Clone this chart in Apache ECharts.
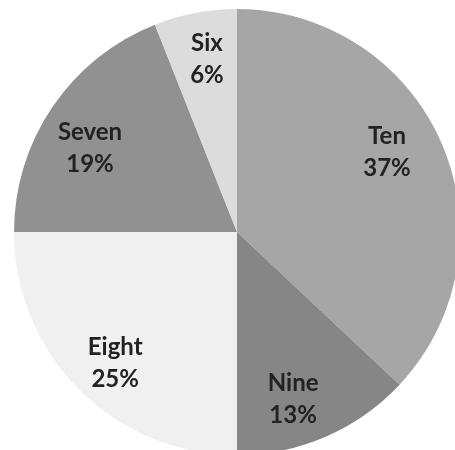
<!DOCTYPE html>
<html>
<head>
<meta charset="utf-8">
<script src="https://cdn.jsdelivr.net/npm/echarts@6/dist/echarts.min.js"></script>
<style>
  html, body { margin: 0; padding: 0; background: #ffffff; }
  #chart { width: 455px; height: 450px; }
</style>
</head>
<body>
<div id="chart"></div>
<script>
// Slice names and percentages, clockwise from 12 o'clock
const categories = ['Ten', 'Nine', 'Eight', 'Seven', 'Six'];
const percents = [37, 13, 25, 19, 6];

// Styling
const sliceColors = {
  Ten: '#a6a6a6', Nine: '#868686', Eight: '#f0f0f0', Seven: '#919191', Six: '#dcdcdc'
};
// Per-label nudges: horizontal padding [right, left] and blank space above / below the text
const labelPadX = { Ten: [24, 0], Nine: [28, 0], Eight: [0, 6], Seven: [2, 0], Six: [0, 6] };
const labelSpace = { Ten: [0, 20], Nine: [10, 0], Eight: [12, 0], Seven: [30, 0], Six: [2, 0] };

const textFont = {
  fontFamily: 'Lato, "Open Sans", sans-serif',
  fontWeight: 'bold',
  fontSize: 24,
  lineHeight: 32,
  color: '#222222'
};

const chart = echarts.init(document.getElementById('chart'), null, { renderer: 'canvas' });

const slices = categories.map((name, i) => ({
  name: name,
  value: percents[i],
  itemStyle: { color: sliceColors[name] }
}));

const labelSlices = categories.map((name, i) => {
  const [above, below] = labelSpace[name];
  const [padR, padL] = labelPadX[name];
  const lines = [];
  if (above) lines.push('{sa| }');
  lines.push('{t|' + name + '}', '{t|' + percents[i] + '%}');
  if (below) lines.push('{sb| }');
  return {
    name: name,
    value: percents[i],
    label: {
      formatter: lines.join('\n'),
      padding: [0, padR, 0, padL],
      rich: {
        t: textFont,
        sa: { fontSize: 1, lineHeight: above || 1, height: above || 1 },
        sb: { fontSize: 1, lineHeight: below || 1, height: below || 1 }
      }
    }
  };
});

const center = [237, 232];
const outerR = 223;

chart.setOption({
  animation: false,
  backgroundColor: '#ffffff',
  series: [
    {
      type: 'pie',
      center: center,
      radius: [0, outerR],
      startAngle: 90,
      clockwise: true,
      silent: true,
      label: { show: false },
      labelLine: { show: false },
      itemStyle: { borderWidth: 0 },
      data: slices
    },
    {
      // transparent ring carrying the labels further out than the pie's middle
      type: 'pie',
      center: center,
      radius: [124, outerR],
      startAngle: 90,
      clockwise: true,
      silent: true,
      itemStyle: { color: 'rgba(0,0,0,0)', borderWidth: 0 },
      label: Object.assign({ show: true, position: 'inside' }, textFont),
      labelLine: { show: false },
      data: labelSlices
    }
  ]
});
</script>
</body>
</html>
